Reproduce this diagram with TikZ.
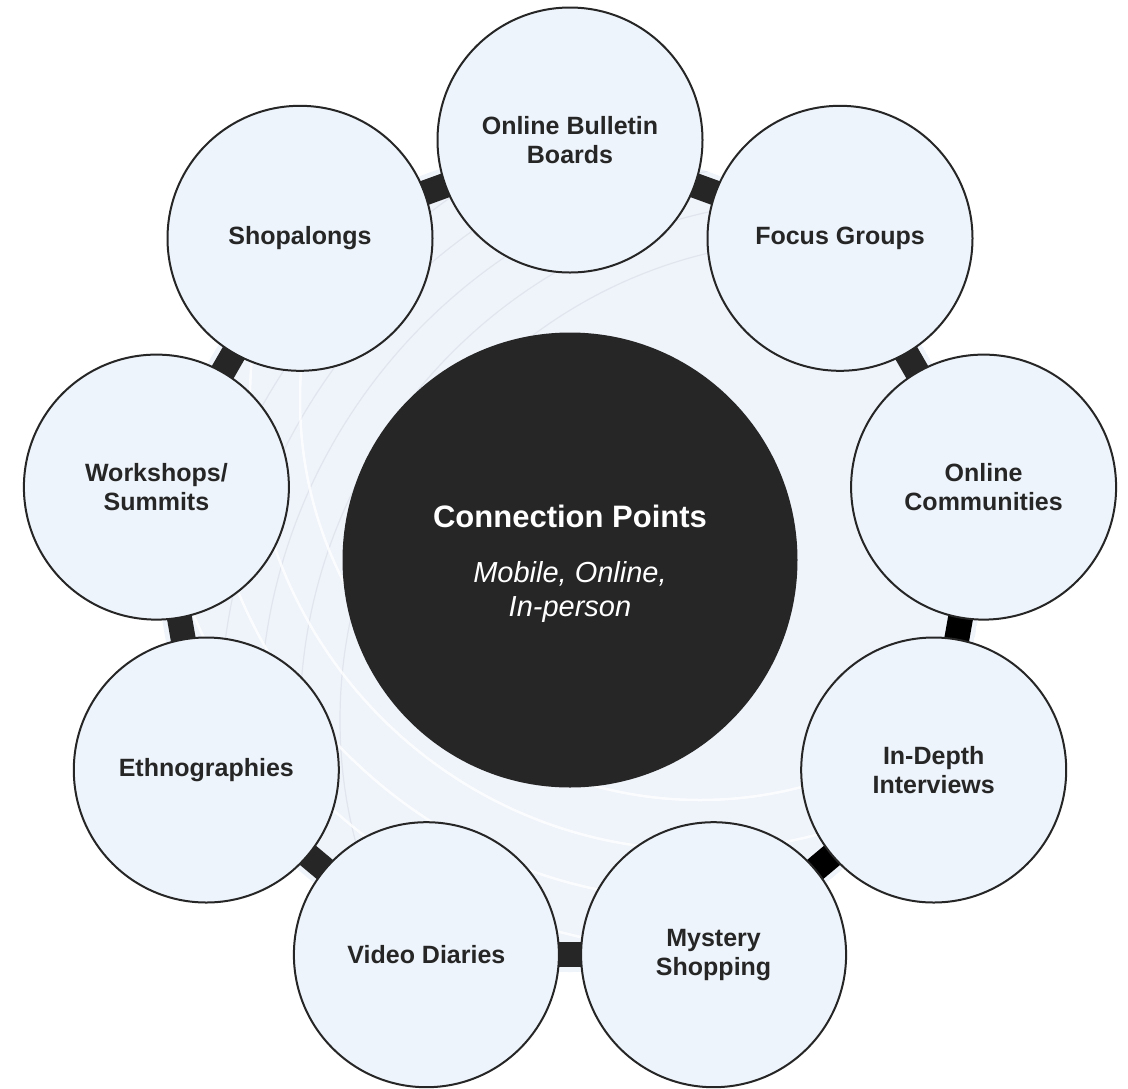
\documentclass[tikz,border=0pt]{standalone}
\usepackage{fontspec}
\setmainfont{Liberation Sans}
\pgfdeclarelayer{back}
\pgfdeclarelayer{links}
\pgfsetlayers{back,links,main}
\definecolor{ink}{HTML}{262626}
\definecolor{bubblefill}{HTML}{EEF4FB}
\definecolor{haze}{HTML}{EFF3FA}
\definecolor{streak}{HTML}{E1E5ED}
\begin{document}
\begin{tikzpicture}[x=1pt,y=-1pt,
  bubble/.style={circle, draw=ink, line width=2pt, fill=bubblefill,
    minimum size=265pt, inner sep=0pt, text=ink, align=center,
    font=\fontsize{25}{29}\selectfont\bfseries},
  hub/.style={circle, fill=ink, minimum size=455pt, inner sep=0pt},
  hubtitle/.style={anchor=base, text=white, inner sep=0pt,
    font=\fontsize{31}{36}\selectfont\bfseries},
  hubsub/.style={anchor=base, text=white, inner sep=0pt,
    font=\fontsize{29}{34}\selectfont\itshape},
  link/.style={line width=25pt, draw=ink},
  linkdark/.style={line width=25pt, draw=black},
  faintarc/.style={draw=streak, line width=1.2pt},
  whitearc/.style={draw=white, line width=2.5pt, opacity=0.8},
]
\useasboundingbox (0,0) rectangle (1128,1088);

% hub
\node[hub] (hub) at (570,560) {};
\node[hubtitle] (hubt) at (570,527) {Connection Points};
\node[hubsub] (hubs1) at (570,582) {Mobile, Online,};
\node[hubsub] (hubs2) at (570,616) {In-person};

% outer bubbles
\node[bubble] (b1) at (570.0,140.0) {Online Bulletin\\Boards};
\node[bubble] (b2) at (840.0,238.3) {Focus Groups};
\node[bubble] (b3) at (983.6,487.1) {Online\\Communities};
\node[bubble] (b4) at (933.7,770.0) {In-Depth\\Interviews};
\node[bubble] (b5) at (713.6,954.7) {Mystery\\Shopping};
\node[bubble] (b6) at (426.4,954.7) {Video Diaries};
\node[bubble] (b7) at (206.3,770.0) {Ethnographies};
\node[bubble] (b8) at (156.4,487.1) {Workshops/\\Summits};
\node[bubble] (b9) at (300.0,238.3) {Shopalongs};

% connectors
\begin{pgfonlayer}{links}
  \draw[link] (b1.center) -- (b2.center);
  \draw[link] (b2.center) -- (b3.center);
  \draw[linkdark] (b3.center) -- (b4.center);
  \draw[linkdark] (b4.center) -- (b5.center);
  \draw[link] (b5.center) -- (b6.center);
  \draw[link] (b6.center) -- (b7.center);
  \draw[link] (b7.center) -- (b8.center);
  \draw[link] (b8.center) -- (b9.center);
  \draw[link] (b9.center) -- (b1.center);
\end{pgfonlayer}

% background haze with swirl
\begin{pgfonlayer}{back}
  \fill[white] (0,0) rectangle (1128,1088);
  \begin{scope}
    \clip (hub.center) circle[radius=412];
    \fill[haze] (hub.center) circle[radius=412];
    \foreach \r in {480,520,560,600,640,680}
      \draw[faintarc] (820,720) circle[radius=\r];
    \foreach \r in {400,450,500,550}
      \draw[whitearc] (700,400) circle[radius=\r];
  \end{scope}
\end{pgfonlayer}
\end{tikzpicture}
\end{document}
